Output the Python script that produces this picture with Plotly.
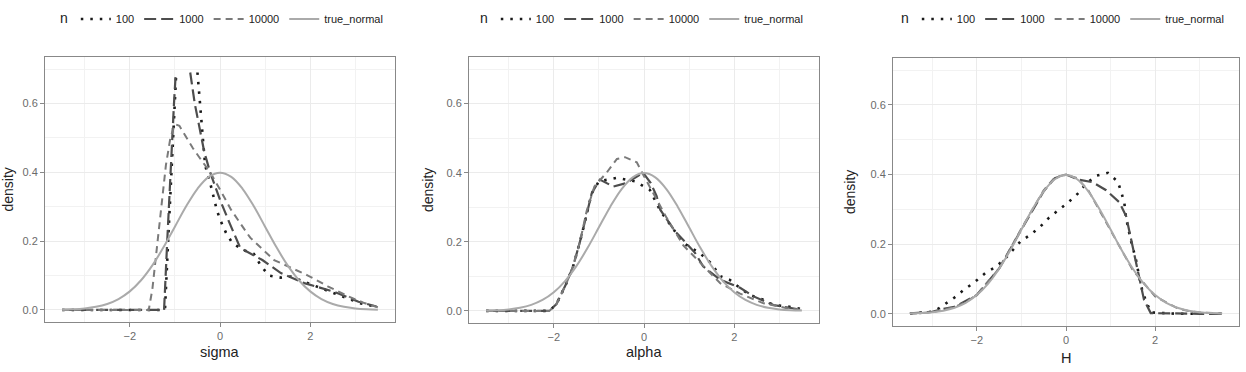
import plotly.graph_objects as go

# ---------------- data ----------------
series_names = ["100", "1000", "10000", "true_normal"]
panel_titles = ["sigma", "alpha", "H"]
x_tick_vals = [-2, 0, 2]
x_tick_text = ["\u22122", "0", "2"]
y_tick_vals = [0.0, 0.2, 0.4, 0.6]
y_tick_text = ["0.0", "0.2", "0.4", "0.6"]
y_limit = 0.7  # values above the y-scale limit are dropped (as in ggplot ylim)

normal_x = [-3.5, -3.25, -3.0, -2.75, -2.5, -2.25, -2.0, -1.75, -1.5, -1.25, -1.0, -0.75, -0.5, -0.25,
            0.0, 0.25, 0.5, 0.75, 1.0, 1.25, 1.5, 1.75, 2.0, 2.25, 2.5, 2.75, 3.0, 3.25, 3.5]
normal_y = [0.0009, 0.002, 0.0044, 0.0091, 0.0175, 0.0317, 0.054, 0.0863, 0.1295, 0.1826, 0.242, 0.3011,
            0.3521, 0.3867, 0.3989, 0.3867, 0.3521, 0.3011, 0.242, 0.1826, 0.1295, 0.0863, 0.054, 0.0317,
            0.0175, 0.0091, 0.0044, 0.002, 0.0009]

sigma_100_x = [-3.5, -2.5, -1.5, -1.22, -1.15, -1.08, -1.0, -0.97, -0.9, -0.75, -0.6, -0.52, -0.5, -0.42,
               -0.33, -0.22, -0.15, -0.07, 0.01, 0.13, 0.27, 0.5, 0.75, 0.9, 1.08, 1.35, 1.57, 1.8, 2.1,
               2.5, 2.8, 3.1, 3.44]
sigma_100_y = [0, 0, 0, 0.0, 0.2, 0.4, 0.6, 0.69, 0.82, 0.9, 0.85, 0.74, 0.69, 0.55, 0.42, 0.37, 0.33,
               0.29, 0.26, 0.225, 0.195, 0.175, 0.163, 0.13, 0.10, 0.094, 0.097, 0.085, 0.07, 0.05, 0.035,
               0.02, 0.01]
sigma_1000_x = [-3.5, -2.5, -1.5, -1.24, -1.17, -1.1, -1.02, -0.98, -0.9, -0.8, -0.7, -0.66, -0.56, -0.47,
                -0.35, -0.22, 0.0, 0.22, 0.45, 0.94, 1.35, 1.87, 2.55, 3.07, 3.47]
sigma_1000_y = [0, 0, 0, 0.0, 0.2, 0.4, 0.6, 0.69, 0.85, 0.9, 0.78, 0.69, 0.6, 0.54, 0.46, 0.40, 0.32,
                0.25, 0.18, 0.145, 0.107, 0.078, 0.052, 0.024, 0.01]
sigma_10000_x = [-3.5, -2.5, -1.58, -1.5, -1.4, -1.3, -1.2, -1.1, -1.0, -0.9, -0.83, -0.6, -0.44, -0.22,
                 0.0, 0.25, 0.67, 1.2, 1.95, 2.4, 2.85, 3.2, 3.5]
sigma_10000_y = [0, 0, 0, 0.06, 0.18, 0.3, 0.42, 0.5, 0.54, 0.535, 0.52, 0.47, 0.44, 0.40, 0.35, 0.29,
                 0.21, 0.145, 0.10, 0.068, 0.039, 0.02, 0.008]

alpha_100_x = [-3.5, -2.5, -2.1, -1.94, -1.72, -1.57, -1.42, -1.27, -1.16, -1.0, -0.8, -0.6, -0.4, -0.2,
               0.0, 0.13, 0.36, 0.65, 0.87, 1.24, 1.47, 1.7, 1.9, 2.13, 2.35, 2.65, 2.87, 3.17, 3.4, 3.5]
alpha_100_y = [0, 0, 0, 0.02, 0.08, 0.13, 0.2, 0.28, 0.34, 0.375, 0.38, 0.385, 0.38, 0.375, 0.36, 0.35,
               0.29, 0.235, 0.197, 0.167, 0.14, 0.1, 0.09, 0.066, 0.046, 0.032, 0.017, 0.013, 0.008, 0.005]
alpha_1000_x = [-3.5, -2.5, -2.1, -1.94, -1.72, -1.57, -1.42, -1.27, -1.16, -0.98, -0.68, -0.4, -0.2,
                -0.02, 0.15, 0.28, 0.36, 0.54, 0.69, 0.91, 1.13, 1.31, 1.69, 2.13, 2.43, 2.87, 3.32, 3.5]
alpha_1000_y = [0, 0, 0, 0.02, 0.08, 0.13, 0.2, 0.28, 0.34, 0.38, 0.36, 0.37, 0.385, 0.40, 0.37, 0.332,
                0.293, 0.26, 0.23, 0.2, 0.168, 0.129, 0.09, 0.067, 0.042, 0.017, 0.008, 0.003]
alpha_10000_x = [-3.5, -2.5, -2.1, -1.94, -1.72, -1.57, -1.42, -1.27, -1.1, -0.83, -0.6, -0.42, -0.16,
                 0.0, 0.21, 0.5, 0.87, 1.1, 1.39, 1.69, 2.13, 2.65, 3.17, 3.5]
alpha_10000_y = [0, 0, 0, 0.02, 0.08, 0.13, 0.2, 0.29, 0.36, 0.40, 0.44, 0.445, 0.43, 0.39, 0.34, 0.27,
                 0.19, 0.16, 0.12, 0.08, 0.05, 0.022, 0.008, 0.003]

H_100_x = [-3.5, -2.95, -2.5, -2.28, -2.06, -1.8, -1.61, -1.39, -1.02, -0.8, -0.58, -0.39, -0.17, 0.05,
           0.27, 0.46, 0.68, 0.94, 1.16, 1.24, 1.31, 1.34, 1.45, 1.57, 1.64, 1.72, 1.9, 2.5, 3.0, 3.5]
H_100_y = [0.0, 0.007, 0.047, 0.07, 0.09, 0.118, 0.132, 0.155, 0.208, 0.227, 0.25, 0.275, 0.298, 0.32,
           0.346, 0.375, 0.397, 0.405, 0.38, 0.35, 0.317, 0.28, 0.213, 0.155, 0.108, 0.061, 0.004, 0.0,
           0.0, 0.0]
H_1000_x = [-3.5, -3.0, -2.75, -2.5, -2.0, -1.5, -1.0, -0.5, -0.25, 0.0, 0.3, 0.6, 0.9, 1.2, 1.35, 1.45,
            1.55, 1.65, 1.75, 1.9, 2.5, 3.0, 3.5]
H_1000_y = [0.001, 0.006, 0.014, 0.02, 0.054, 0.13, 0.242, 0.352, 0.39, 0.40, 0.385, 0.378, 0.355, 0.32,
            0.28, 0.22, 0.15, 0.09, 0.04, 0.002, 0.0, 0.0, 0.0]
H_10000_x = [-3.5, -3.0, -2.75, -2.5, -2.25, -2.0, -1.5, -1.0, -0.5, -0.25, 0.0, 0.25, 0.5, 1.0, 1.5, 2.0,
             2.5, 2.75, 3.0, 3.5]
H_10000_y = [0.001, 0.004, 0.012, 0.02, 0.033, 0.055, 0.13, 0.245, 0.355, 0.392, 0.40, 0.39, 0.355, 0.24,
             0.125, 0.05, 0.016, 0.008, 0.004, 0.001]

panel_data = [
    [(sigma_100_x, sigma_100_y), (sigma_1000_x, sigma_1000_y), (sigma_10000_x, sigma_10000_y), (normal_x, normal_y)],
    [(alpha_100_x, alpha_100_y), (alpha_1000_x, alpha_1000_y), (alpha_10000_x, alpha_10000_y), (normal_x, normal_y)],
    [(H_100_x, H_100_y), (H_1000_x, H_1000_y), (H_10000_x, H_10000_y), (normal_x, normal_y)],
]

# ---------------- styles / layout ----------------
W, H = 1246, 372
FONT = "Liberation Sans, Arial"
line_styles = [
    dict(color="#1a1a1a", width=2.6, dash="2.5px,7px"),
    dict(color="#4d4d4d", width=2.2, dash="12px,5px"),
    dict(color="#7a7a7a", width=2.0, dash="7px,5px"),
    dict(color="#AAAAAA", width=2.0, dash="solid"),
]
# panel pixel boxes: left, right, top, bottom
panel_px = [(45, 395, 57, 322), (469, 819, 57, 323), (893, 1239, 58, 326)]
ytitle_px = [7, 428, 850]
xtitle_py = [352, 352, 358]
legend_px = [58, 478, 899]

fig = go.Figure()
legend_ids = ["legend", "legend2", "legend3"]

for p, series in enumerate(panel_data):
    ax = "" if p == 0 else str(p + 1)
    for s, (xs, ys) in enumerate(series):
        yv = [v if v <= y_limit else None for v in ys]
        fig.add_trace(go.Scatter(
            x=xs, y=yv, mode="lines", name=series_names[s],
            line=dict(**line_styles[s], shape="spline" if s == 3 else "linear"),
            xaxis="x" + ax, yaxis="y" + ax, legend=legend_ids[p],
            connectgaps=False, hoverinfo="skip",
        ))

axis_common = dict(
    showline=True, mirror=True, linecolor="#888888", linewidth=1,
    ticks="outside", ticklen=4, tickcolor="#888888", tickwidth=1,
    tickfont=dict(family=FONT, size=11, color="#6b6b6b"),
    showgrid=True, gridcolor="#EBEBEB", gridwidth=1, zeroline=False,
)

layout = dict(
    width=W, height=H, margin=dict(l=0, r=0, t=0, b=0),
    paper_bgcolor="white", plot_bgcolor="white", showlegend=True,
    font=dict(family=FONT, color="#333333"),
    annotations=[],
)
for p in range(3):
    ax = "" if p == 0 else str(p + 1)
    l, r, t, b = panel_px[p]
    layout["xaxis" + ax] = dict(
        axis_common, domain=[l / W, r / W], range=[-3.88, 3.88],
        tickvals=x_tick_vals, ticktext=x_tick_text, anchor="y" + ax,
        minor=dict(tickvals=[-3, -1, 1, 3], showgrid=True, gridcolor="#F2F2F2", gridwidth=0.6, ticks=""),
    )
    layout["yaxis" + ax] = dict(
        axis_common, domain=[1 - b / H, 1 - t / H], range=[-0.035, 0.735],
        tickvals=y_tick_vals, ticktext=y_tick_text, anchor="x" + ax,
        minor=dict(tickvals=[0.1, 0.3, 0.5, 0.7], showgrid=True, gridcolor="#F2F2F2", gridwidth=0.6, ticks=""),
    )
    layout["annotations"].append(dict(
        text=panel_titles[p], xref="paper", yref="paper", x=(l + r) / 2 / W, y=1 - xtitle_py[p] / H,
        xanchor="center", yanchor="middle", showarrow=False,
        font=dict(family=FONT, size=14.5, color="#222222"),
    ))
    layout["annotations"].append(dict(
        text="density", xref="paper", yref="paper", x=ytitle_px[p] / W, y=1 - (t + b) / 2 / H,
        xanchor="center", yanchor="middle", showarrow=False, textangle=-90,
        font=dict(family=FONT, size=14, color="#222222"),
    ))
    layout[legend_ids[p]] = dict(
        orientation="h", x=legend_px[p] / W, xanchor="left", y=1 - 19 / H, yanchor="middle",
        title=dict(text="n", font=dict(family=FONT, size=14, color="#222222"), side="left"),
        font=dict(family=FONT, size=11, color="#222222"),
        itemwidth=30, bgcolor="rgba(0,0,0,0)", borderwidth=0, tracegroupgap=0,
    )

fig.update_layout(**layout)
fig.write_html("out.html")
